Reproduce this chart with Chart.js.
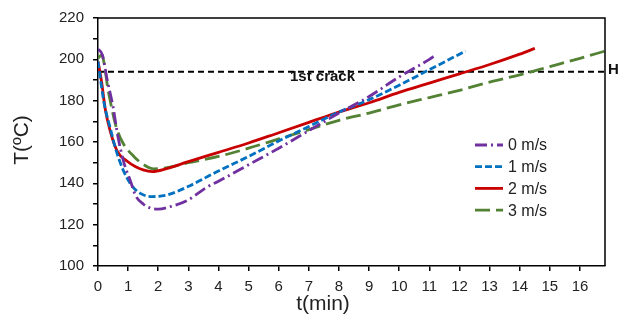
<!DOCTYPE html>
<html lang="en">
<head>
    <meta charset="UTF-8">
    <title>Temperature vs time</title>
    <script src="https://cdn.jsdelivr.net/npm/chart.js"></script>
    <style>
        html, body { margin: 0; padding: 0; background: #fff; }
        #wrap { width: 618px; height: 321px; position: relative; }
    </style>
</head>
<body>
    <div id="wrap"><canvas id="tempChart" width="618" height="321"></canvas></div>

    <script>
        // series labels
        const seriesLabels = ['0 m/s', '1 m/s', '2 m/s', '3 m/s'];

        // 0 m/s
        const time0 = [0, 0.15, 0.3, 0.5, 0.65, 0.85, 1.08, 1.25, 1.5, 1.75, 2.0, 2.4, 3.0, 3.6, 4.0, 5.0, 6.0, 7.0, 8.0, 9.0, 10.0, 11.0, 11.2];
        const temp0 = [205, 202, 190.5, 177, 163.5, 150.5, 141, 134, 130, 128, 127.5, 128.7, 132, 138, 141, 149, 157, 165.5, 174, 182, 191.5, 200, 202];

        // 1 m/s
        const time1 = [0, 0.2, 0.41, 0.58, 0.81, 1.08, 1.42, 1.8, 2.3, 3.07, 3.67, 4.0, 5.0, 6.0, 7.0, 8.0, 9.0, 10.0, 11.0, 12.0, 12.2];
        const temp1 = [199, 179, 166.5, 157, 147.3, 139.7, 135, 133.6, 134.4, 139, 143.5, 146, 153, 160.5, 167.5, 174.5, 180.5, 187.5, 195, 202.5, 204];

        // 2 m/s
        const time2 = [0, 0.12, 0.24, 0.41, 0.64, 0.97, 1.25, 1.5, 1.8, 2.25, 3.0, 4.0, 5.0, 6.0, 7.0, 8.0, 9.0, 10.0, 11.0, 12.0, 13.0, 14.0, 14.5];
        const temp2 = [199, 189, 176, 165, 155.5, 150.7, 148, 146.5, 145.7, 147, 150.5, 155, 159.5, 164.5, 169.5, 174.5, 179, 184, 188.5, 193, 197.5, 202.5, 205.3];

        // 3 m/s
        const time3 = [0, 0.12, 0.35, 0.58, 0.81, 1.19, 1.52, 1.85, 2.25, 3.0, 4.0, 5.0, 6.0, 7.0, 8.0, 9.0, 10.0, 11.0, 12.0, 13.0, 14.0, 15.0, 16.0, 16.83];
        const temp3 = [200.5, 202, 184, 168.5, 160, 153, 149, 147, 147.5, 150, 153, 157, 161.5, 166, 170.5, 174, 178, 181.5, 185, 189, 192.5, 196.5, 200.5, 204];

        // first crack temperature (dashed line)
        const crackTemp = 194;
        const crackTime = [0, 16.83];

        // axes
        const xTicks = [0, 1, 2, 3, 4, 5, 6, 7, 8, 9, 10, 11, 12, 13, 14, 15, 16];
        const yTicks = [100, 110, 120, 130, 140, 150, 160, 170, 180, 190, 200, 210, 220];
        const yLabelTicks = [100, 120, 140, 160, 180, 200, 220];

        const FONT = '"Liberation Sans", Arial, sans-serif';
        const colors = ['#7030A0', '#0070C0', '#C80000', '#548235'];
        const dashes = [[12, 4, 2, 4], [7, 3], [], [15, 6]];

        const pts = (xs, ys) => xs.map((x, i) => ({ x: x, y: ys[i] }));
        const series = [pts(time0, temp0), pts(time1, temp1), pts(time2, temp2), pts(time3, temp3)];

        const datasets = series.map((d, i) => ({
            label: seriesLabels[i],
            data: d,
            borderColor: colors[i],
            borderDash: dashes[i],
            borderWidth: 2.8,
            pointRadius: 0,
            fill: false,
            cubicInterpolationMode: 'monotone'
        }));
        datasets.push({
            label: '1st crack',
            data: crackTime.map(t => ({ x: t, y: crackTemp })),
            borderColor: '#000',
            borderDash: [6, 4],
            borderWidth: 2,
            pointRadius: 0
        });

        // frame, legend and free text
        const extras = {
            id: 'extras',
            afterDraw(chart) {
                const ctx = chart.ctx;
                const a = chart.chartArea;
                ctx.save();
                ctx.setLineDash([]);
                ctx.strokeStyle = '#000';
                ctx.lineWidth = 1.5;
                ctx.beginPath();
                ctx.moveTo(a.left, a.top);
                ctx.lineTo(a.right, a.top);
                ctx.lineTo(a.right, a.bottom);
                ctx.stroke();

                // legend
                ctx.font = '16px ' + FONT;
                ctx.textBaseline = 'middle';
                ctx.textAlign = 'left';
                seriesLabels.forEach((lab, i) => {
                    const y = 145 + i * 21.7;
                    ctx.strokeStyle = colors[i];
                    ctx.lineWidth = 2.8;
                    ctx.setLineDash(dashes[i]);
                    ctx.beginPath();
                    ctx.moveTo(475, y);
                    ctx.lineTo(503, y);
                    ctx.stroke();
                    ctx.fillStyle = '#222';
                    ctx.fillText(lab, 508, y + 1);
                });
                ctx.setLineDash([]);

                // annotations
                ctx.fillStyle = '#111';
                ctx.font = 'bold 15px ' + FONT;
                ctx.fillText('1st crack', 290, 77);
                ctx.fillText('H', 608, 70);

                // axis titles
                ctx.font = '21px ' + FONT;
                ctx.textAlign = 'center';
                ctx.fillStyle = '#222';
                ctx.fillText('t(min)', 323, 304);
                ctx.translate(22, 140);
                ctx.rotate(-Math.PI / 2);
                ctx.fillText('T(ºC)', 0, 0);
                ctx.restore();
            }
        };

        new Chart(document.getElementById('tempChart'), {
            type: 'line',
            data: { datasets: datasets },
            options: {
                responsive: false,
                animation: false,
                layout: { padding: { left: 0, right: 13, top: 15, bottom: 0 } },
                plugins: { legend: { display: false }, tooltip: { enabled: false } },
                scales: {
                    x: {
                        type: 'linear',
                        min: 0,
                        max: 16.83,
                        afterFit: s => { s.height = 55; },
                        afterBuildTicks: s => { s.ticks = xTicks.map(v => ({ value: v })); },
                        grid: { drawOnChartArea: false, drawTicks: true, tickLength: 5, color: '#000', lineWidth: 1.5 },
                        border: { color: '#000', width: 1.5 },
                        ticks: { color: '#222', font: { family: FONT, size: 15 }, padding: 7, maxRotation: 0, autoSkip: false }
                    },
                    y: {
                        min: 100,
                        max: 220,
                        afterFit: s => { s.width = 98; },
                        afterBuildTicks: s => { s.ticks = yTicks.map(v => ({ value: v })); },
                        grid: { drawOnChartArea: false, drawTicks: true, tickLength: 5, color: '#000', lineWidth: 1.5 },
                        border: { color: '#000', width: 1.5 },
                        ticks: {
                            color: '#222',
                            font: { family: FONT, size: 15 },
                            padding: 9,
                            autoSkip: false,
                            callback: v => yLabelTicks.includes(v) ? String(v) : ''
                        }
                    }
                }
            },
            plugins: [extras]
        });
    </script>
</body>
</html>
